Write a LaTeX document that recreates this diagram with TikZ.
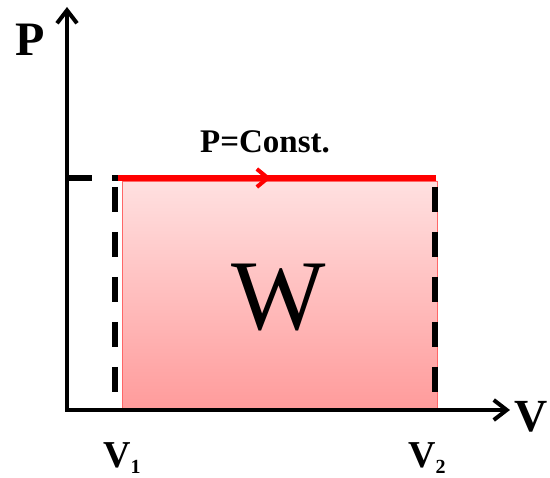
\documentclass[tikz,border=0pt]{standalone}
\usepackage{fontspec}
\setmainfont{Liberation Serif}
\usetikzlibrary{arrows.meta}

\begin{document}
\begin{tikzpicture}[x=1pt,y=-1pt,
	axis/.style={line width=4pt, -{Straight Barb[length=13pt,width=20pt]}},
	bound/.style={line width=6pt, dash pattern=on 25pt off 20pt},
	lbl/.style={font=\bfseries\fontsize{#1}{#1}\selectfont, inner sep=0pt, anchor=base west}]
	\useasboundingbox (0,0) rectangle (550,478);
	% axes
	\coordinate (O) at (67,410);
	\coordinate (Ptip) at (67,7);
	\coordinate (Vtip) at (510,410);
	\shade[top color=red!12, bottom color=red!39, draw=red!60, line width=0.6pt] (122,181) rectangle (437,408);
	\draw[axis] ([yshift=2pt]O) -- (Ptip);
	\draw[axis] ([xshift=-2pt]O) -- (Vtip);
	% isobaric path
	\coordinate (A) at (118,178);
	\coordinate (B) at (436,178);
	\coordinate (mid) at (271,178);
	\draw[bound] (O |- A) -- (A);
	\draw[bound] (115,187) -- (115,410);
	\draw[bound] (435,187) -- (435,410);
	\draw[red, line width=6pt] (A) -- (B);
	\draw[red, line width=4pt, -{Straight Barb[length=11pt,width=18pt]}] (A) -- (mid);
	% labels
	\node[lbl=48] (P) at (15,56) {P};
	\node[lbl=46] (V) at (514,432) {V};
	\node[lbl=33, anchor=base] (pc) at (265,153) {P=Const.};
	\node[font=\fontsize{100}{100}\selectfont, inner sep=0pt, anchor=base] (W) at (279,330) {W};
	\node[lbl=38] (V1) at (103,468) {V\raisebox{-6pt}{\fontsize{20}{20}\selectfont 1}};
	\node[lbl=38] (V2) at (408,468) {V\raisebox{-6pt}{\fontsize{20}{20}\selectfont 2}};
\end{tikzpicture}
\end{document}
